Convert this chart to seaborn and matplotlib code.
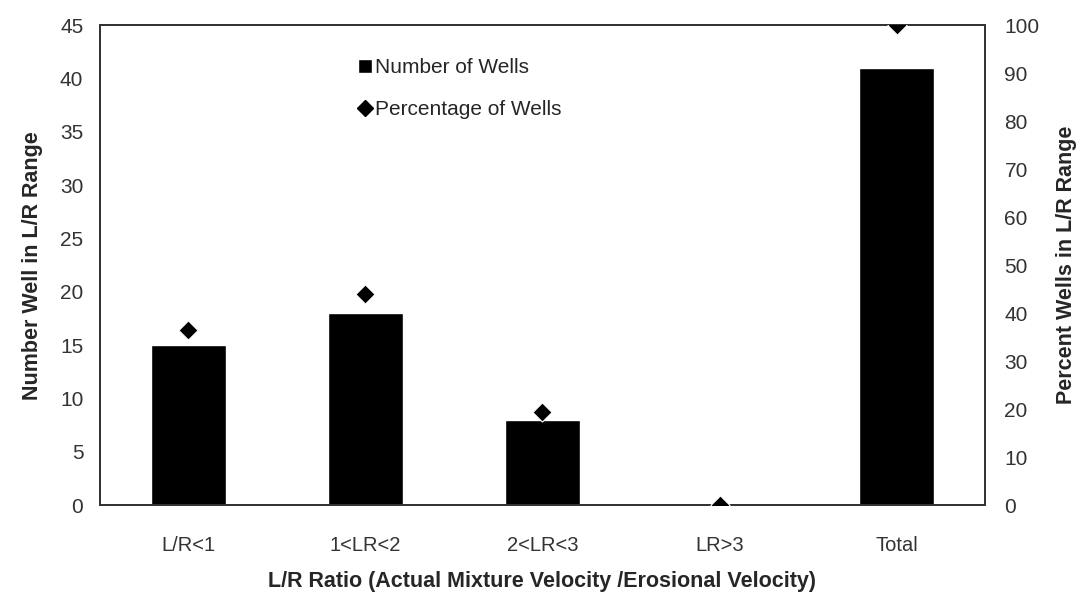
import pandas as pd
import matplotlib
matplotlib.use('Agg')
import matplotlib.pyplot as plt
import seaborn as sns
from matplotlib.lines import Line2D
from matplotlib.patches import Patch

sns.set_style('white')
plt.rcParams['font.family'] = ['Liberation Sans', 'DejaVu Sans']

categories = ['L/R<1', '1<LR<2', '2<LR<3', 'LR>3', 'Total']
num_wells = [15, 18, 8, 0, 41]
pct_wells = [36.6, 43.9, 19.5, 0, 100]

df = pd.DataFrame({'cat': categories, 'num': num_wells, 'pct': pct_wells})

fig = plt.figure(figsize=(10.81, 6), dpi=100)
ax = fig.add_axes([0.0925, 0.158, 0.8187, 0.8])

sns.barplot(data=df, x='cat', y='num', color='black', width=0.42, ax=ax,
            saturation=1)
ax.set_ylim(0, 45)
ax.set_xlim(-0.5, 4.5)
ax.set_yticks(range(0, 46, 5))
ax.set_xlabel('L/R Ratio (Actual Mixture Velocity /Erosional Velocity)',
              fontsize=15.5, fontweight='bold', labelpad=12)
ax.set_ylabel('Number Well in L/R Range', fontsize=15.5, fontweight='bold',
              labelpad=12)
ax.tick_params(axis='y', labelsize=15, colors='#333333', length=0, pad=12)
ax.tick_params(axis='x', labelsize=14.5, colors='#333333', length=0, pad=22)

ax2 = ax.twinx()
sns.scatterplot(data=df, x='cat', y='pct', marker='D', color='black', s=95,
                ax=ax2, legend=False, zorder=5)
ax2.set_ylim(0, 100)
ax2.set_yticks(range(0, 101, 10))
ax2.set_ylabel('Percent Wells in L/R Range', fontsize=15.5, fontweight='bold',
               labelpad=12)
ax2.tick_params(axis='y', labelsize=15, colors='#333333', length=0, pad=14)

for a in (ax, ax2):
    for s in a.spines.values():
        s.set_color('#333333')
        s.set_linewidth(1.4)

handles = [Patch(facecolor='black', label='Number of Wells'),
           Line2D([], [], marker='D', color='black', linestyle='',
                  markersize=8, label='Percentage of Wells')]
ax.legend(handles=handles, loc='upper left', bbox_to_anchor=(0.27, 0.97),
          frameon=False, fontsize=15, handlelength=0.7, handletextpad=0.15,
          labelspacing=1.1)

fig.savefig('out.png', dpi=100)
